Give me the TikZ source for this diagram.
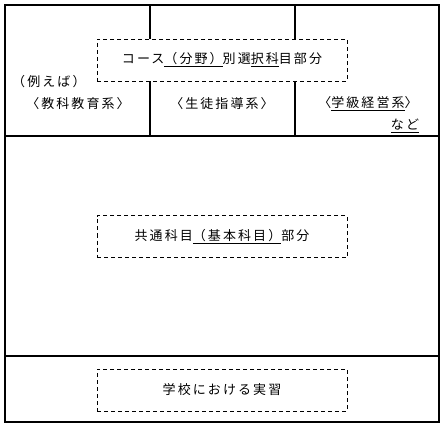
\documentclass[tikz,border=0pt]{standalone}
\usepackage{fontspec}
\setmainfont{Noto Sans CJK JP}
\newfontfamily\jpfont[LetterSpace=16]{Noto Sans CJK JP}

\newcommand*{\xleft}{5}
\newcommand*{\xright}{439}
\newcommand*{\ytop}{5}
\newcommand*{\ybot}{422}
\newcommand*{\yfirst}{136}
\newcommand*{\ysecond}{356}

\begin{document}
\begin{tikzpicture}
[
	x=1pt,y=-1pt,
	frame/.style={line width=1.6pt},
	part/.style={draw,dash pattern=on 4pt off 3pt,fill=white,minimum width=250pt,minimum height=42pt,inner sep=0pt,font=\jpfont\fontsize{13pt}{15pt}\selectfont},
	txt/.style={inner sep=0pt,font=\jpfont\fontsize{13pt}{15pt}\selectfont}
]
	\useasboundingbox (0,0) rectangle (443,427);

	% frame
	\draw[frame] (\xleft,\ytop) rectangle (\xright,\ybot);
	\draw[frame] (\xleft,\yfirst) -- (\xright,\yfirst);
	\draw[frame] (\xleft,\ysecond) -- (\xright,\ysecond);
	\draw[frame] (150,\ytop) -- (150,\yfirst);
	\draw[frame] (295,\ytop) -- (295,\yfirst);

	% parts
	\node[part] at (222,60) (course) {コース\underline{（分野）}別選\underline{択科}目部分};
	\node[part] at (222,236.5) (common) {共通科目\underline{（基本科目）}部分};
	\node[part] at (222,390) (practice) {学校における実習};

	% examples
	\node[txt,anchor=west] at (12,82) (example) {（例えば）};
	\node[txt] at (78,104) (subject) {〈教科教育系〉};
	\node[txt] at (222,104) (guidance) {〈生徒指導系〉};
	\node[txt] at (368,104) (classroom) {〈\underline{学級経営系}〉};
	\node[txt] at (405,126) (etc) {\underline{など}};

\end{tikzpicture}
\end{document}
